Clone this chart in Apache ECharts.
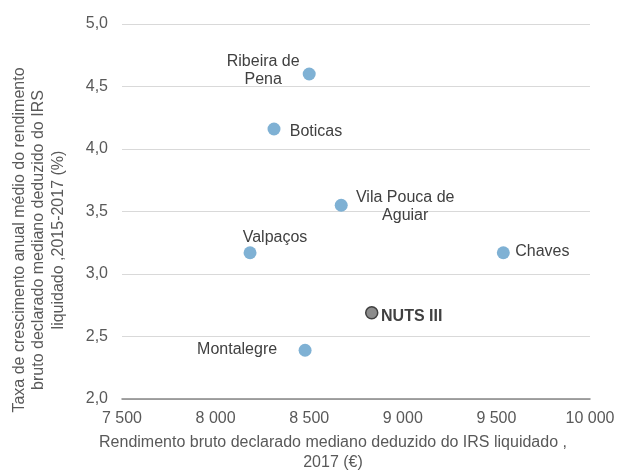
<!DOCTYPE html>
<html>
<head>
<meta charset="utf-8">
<script src="https://cdn.jsdelivr.net/npm/echarts@6/dist/echarts.min.js"></script>
<style>html,body{margin:0;padding:0;background:#fff}#c{width:623px;height:470px}</style>
</head>
<body>
<div id="c"></div>
<script>
const names = ["Ribeira de\nPena", "Boticas", "Vila Pouca de\nAguiar", "Valpaços", "Chaves", "Montalegre"];
const incomes = [8500, 8312, 8671, 8184, 9537, 8478];
const growth = [4.60, 4.16, 3.55, 3.17, 3.17, 2.39];
const labelOffsets = [[-46, -3], [42, 3], [64, 1], [25, -15], [39, -1], [-68, -1]];
const nutsName = "NUTS III";
const nutsIncome = 8834;
const nutsGrowth = 2.69;
const xTicks = { min: 7500, max: 10000, step: 500 };
const yTicks = { min: 2, max: 5, step: 0.5 };

const font = "Liberation Sans, Arial, sans-serif";
const fs = 16;
const chart = echarts.init(document.getElementById('c'));
chart.setOption({
  animation: false,
  grid: { left: 122, right: 33, top: 24, bottom: 71, outerBoundsMode: 'none', containLabel: false },
  xAxis: {
    type: 'value', min: xTicks.min, max: xTicks.max, interval: xTicks.step,
    name: 'Rendimento bruto declarado mediano deduzido do IRS liquidado ,\n2017 (€)',
    nameLocation: 'middle', nameGap: 34,
    nameTextStyle: { color: '#595959', fontSize: fs, fontFamily: font, lineHeight: 20, padding: [0, 46, 0, 0] },
    axisLine: { show: true, lineStyle: { color: '#868686', width: 1.5 } },
    axisTick: { show: false },
    splitLine: { show: false },
    axisLabel: { color: '#595959', fontSize: fs, fontFamily: font, margin: 12,
      formatter: v => String(v).replace(/\B(?=(\d{3})+(?!\d))/g, ' ') }
  },
  yAxis: {
    type: 'value', min: yTicks.min, max: yTicks.max, interval: yTicks.step,
    name: 'Taxa de crescimento anual médio do rendimento\nbruto declarado mediano deduzido do IRS\nliquidado ,2015-2017 (%)',
    nameLocation: 'middle', nameGap: 54,
    nameTextStyle: { color: '#595959', fontSize: fs, fontFamily: font, lineHeight: 19.5, padding: [0, 57, 0, 0] },
    axisLine: { show: false },
    axisTick: { show: false },
    splitLine: { lineStyle: { color: '#d9d9d9', width: 1 } },
    axisLabel: { color: '#595959', fontSize: fs, fontFamily: font, margin: 14,
      formatter: v => v.toFixed(1).replace('.', ',') }
  },
  series: [
    {
      type: 'scatter', symbolSize: 13,
      itemStyle: { color: '#7fb1d4', opacity: 1 },
      data: names.map((n, i) => ({
        value: [incomes[i], growth[i]], name: n,
        label: { offset: labelOffsets[i] }
      })),
      label: {
        show: true, position: 'inside', align: 'center', verticalAlign: 'middle',
        formatter: p => p.name, color: '#404040', fontSize: fs, fontFamily: font, lineHeight: 18
      }
    },
    {
      type: 'scatter', symbolSize: 12,
      itemStyle: { color: '#8c8c8c', borderColor: '#404040', borderWidth: 1.5, opacity: 1 },
      data: [{ value: [nutsIncome, nutsGrowth], name: nutsName }],
      label: {
        show: true, position: 'inside', align: 'center', verticalAlign: 'middle', offset: [40, 4],
        formatter: p => p.name, color: '#404040', fontSize: fs, fontWeight: 'bold', fontFamily: font
      }
    }
  ]
});
</script>
</body>
</html>
